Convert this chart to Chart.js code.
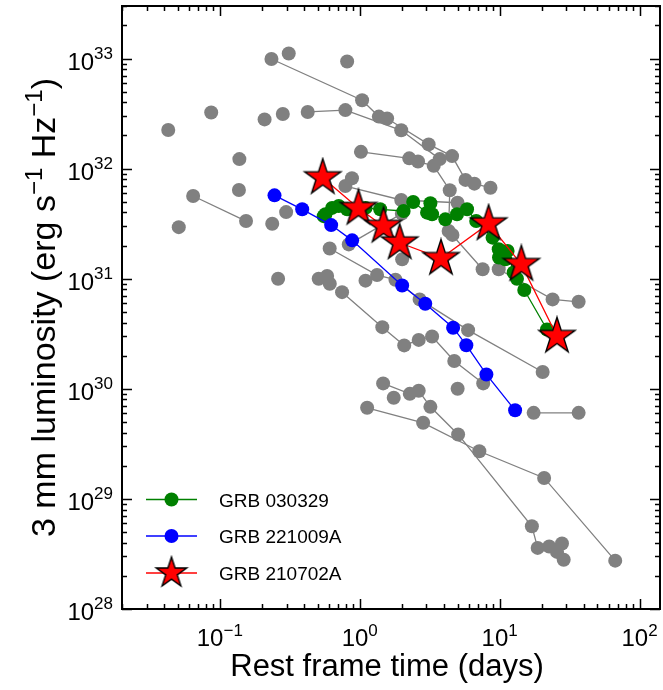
<!DOCTYPE html>
<html><head><meta charset="utf-8">
<script src="https://cdn.jsdelivr.net/npm/chart.js@4/dist/chart.umd.min.js"></script>
<style>html,body{margin:0;padding:0;background:#fff}#wrap{width:663px;height:690px}</style>
</head><body><div id="wrap"><canvas id="c" width="663" height="690"></canvas></div>
<script>
// ---------------- DATA ----------------
const seriesLabels = ['GRB 030329', 'GRB 221009A', 'GRB 210702A'];

const grb030329_t = [0.553,0.569,0.635,0.708,0.813,1.1,1.40,2.06,2.41,3.03,3.2,3.29,4.09,4.96,5.85,6.8,8.9,9.85,9.9,10.99,11.4,12.6,13.3,15.0,21.8];
const grb030329_L = [3.7e31,3.85e31,4.4e31,4.58e31,4.27e31,4.4e31,4.27e31,4.12e31,4.97e31,3.98e31,4.84e31,3.85e31,3.46e31,3.85e31,4.27e31,3.34e31,2.36e31,1.85e31,1.56e31,1.5e31,1.79e31,1.14e31,1.0e31,7.9e30,3.46e30];

const grb221009A_t = [0.246,0.388,0.625,0.883,2.01,2.94,4.65,5.78,8.04,12.9];
const grb221009A_L = [5.72e31,4.27e31,3.07e31,2.23e31,8.69e30,5.93e30,3.59e30,2.49e30,1.35e30,6.38e29];

const grb210702A_t = [0.544,0.98,1.48,1.93,3.81,8.34,14.3,25.7];
const grb210702A_L = [8.28e31,4.36e31,3.0e31,2.12e31,1.53e31,3.16e31,1.35e31,3.0e30];

// archival GRBs (grey), connected light curves
const archivalT = [
  [0.234,1.04,1.37,1.57,3.11,4.57,5.7,6.6,8.6],
  [0.425,0.79,1.98,3.73],
  [1.02,2.26,2.61,3.38,4.4,4.32,7.56],
  [0.0645,0.154],
  [0.79,1.98,5.0],
  [0.835,2.0],
  [9.85,23.9,36.7],
  [0.61,1.33,1.8,2.68,5.95,20.3],
  [0.748,1.45,2.08,2.64,3.29,4.74,7.63],
  [1.47,2.28,2.64,3.2,5.05,17.0,18.7,22.6,27.9,28.7],
  [1.13,2.84,7.16,20.8,67],
  [17.5,36.7]
];
const archivalL = [
  [9.9e32,4.18e32,2.97e32,2.85e32,1.66e32,1.30e32,7.9e31,7.3e31,6.7e31],
  [3.27e32,3.4e32,2.23e32,1.22e32],
  [1.42e32,1.24e32,1.16e32,1.06e32,6.36e31,2.71e31,1.22e31],
  [5.64e31,3.34e31],
  [6.95e31,5.19e31,4.9e31],
  [2.05e31,3.9e31],
  [1.22e31,6.49e30,6.17e30],
  [1.88e31,1.08e31,9.8e30,6.49e30,3.41e30,1.42e30],
  [7.55e30,3.63e30,2.48e30,2.78e30,2.99e30,1.79e30,1.12e30],
  [1.12e30,9.0e29,9.6e29,6.86e29,3.85e29,5.64e28,3.59e28,3.7e28,3.93e28,2.8e28],
  [6.72e29,4.91e29,2.71e29,1.55e29,2.75e28],
  [6.05e29,6.05e29]
];
// archival single detections (grey, unconnected)
const singleT = [0.311,0.813,0.0868,0.0428,0.209,0.282,0.138,0.137,0.0509,0.237,0.298,0.88,0.261,0.509,0.585,0.611,1.1,2.01,4.6,1.75,5.01,25.7];
const singleL = [1.11e33,9.4e32,3.23e32,2.24e32,2.8e32,3.13e32,1.22e32,6.39e31,2.94e31,3.16e31,4.03e31,8.17e31,1.0e31,1.0e31,1.06e31,9.0e30,9.6e30,1.5e31,2.5e31,8.3e29,1.0e30,3.3e28];

const xDecades = [-1, 0, 1, 2];
const yDecades = [28, 29, 30, 31, 32, 33];

// ---------------- helpers ----------------
const FONT = '"Liberation Sans", Arial, Helvetica, sans-serif';
function pts(t, L) { return t.map((v, i) => ({x: v, y: L[i]})); }
function starImg(R) {
  const s = Math.ceil(2 * R + 4), c = document.createElement('canvas');
  c.width = s; c.height = s;
  const g = c.getContext('2d'), cx = s / 2, cy = s / 2, r = R * 0.381966;
  g.beginPath();
  for (let i = 0; i < 10; i++) {
    const a = -Math.PI / 2 + i * Math.PI / 5, rr = i % 2 ? r : R;
    const px = cx + rr * Math.cos(a), py = cy + rr * Math.sin(a);
    i ? g.lineTo(px, py) : g.moveTo(px, py);
  }
  g.closePath();
  g.fillStyle = '#ff0000'; g.fill();
  g.lineWidth = 1.4; g.strokeStyle = '#000'; g.lineJoin = 'miter'; g.stroke();
  return c;
}
const STAR = starImg(19), STAR_LEG = starImg(16);
const GREY = '#808080';

const datasets = [];
datasets.push({label: seriesLabels[2], data: pts(grb210702A_t, grb210702A_L), showLine: true,
  borderColor: '#ff0000', borderWidth: 1.3, pointStyle: STAR, pointRadius: 19, order: 0});
datasets.push({label: seriesLabels[1], data: pts(grb221009A_t, grb221009A_L), showLine: true,
  borderColor: '#0000ff', borderWidth: 1.3, pointBackgroundColor: '#0000ff', pointBorderWidth: 0, pointRadius: 7, order: 1});
datasets.push({label: seriesLabels[0], data: pts(grb030329_t, grb030329_L), showLine: true,
  borderColor: '#008000', borderWidth: 1.3, pointBackgroundColor: '#008000', pointBorderWidth: 0, pointRadius: 7, order: 2});
archivalT.forEach((t, i) => datasets.push({label: 'arch' + i, data: pts(t, archivalL[i]), showLine: true,
  borderColor: GREY, borderWidth: 1.3, pointBackgroundColor: GREY, pointBorderWidth: 0, pointRadius: 7, order: 10}));
datasets.push({label: 'single', data: pts(singleT, singleL), showLine: false,
  pointBackgroundColor: GREY, pointBorderWidth: 0, pointRadius: 7, order: 10});

function drawPow(ctx, base, exp, x, y, align, bs, es, rise) {
  ctx.font = bs + 'px ' + FONT; const wb = ctx.measureText(base).width;
  ctx.font = es + 'px ' + FONT; const we = ctx.measureText(exp).width;
  const tot = wb + we; let sx = align === 'center' ? x - tot / 2 : (align === 'right' ? x - tot : x);
  ctx.textAlign = 'left'; ctx.textBaseline = 'alphabetic';
  ctx.font = bs + 'px ' + FONT; ctx.fillText(base, sx, y);
  ctx.font = es + 'px ' + FONT; ctx.fillText(exp, sx + wb, y - rise);
}
function expStr(d) { return d < 0 ? '\u2212' + (-d) : String(d); }

const axesPlugin = {
  id: 'mplAxes',
  afterDatasetsDraw(chart) {
    const {ctx, chartArea: a, scales: {x, y}} = chart;
    ctx.save();
    ctx.strokeStyle = '#000'; ctx.fillStyle = '#000';
    // ticks
    ctx.lineWidth = 1.5;
    ctx.beginPath();
    for (let d = -2; d <= 2; d++) for (let m = 1; m <= 9; m++) {
      const v = m * Math.pow(10, d);
      if (v < x.min || v > x.max) continue;
      const px = Math.round(x.getPixelForValue(v)) + 0.5, len = m === 1 ? 10 : 5;
      ctx.moveTo(px, a.bottom); ctx.lineTo(px, a.bottom - len);
      ctx.moveTo(px, a.top); ctx.lineTo(px, a.top + len);
    }
    for (let d = 27; d <= 33; d++) for (let m = 1; m <= 9; m++) {
      const v = m * Math.pow(10, d);
      if (v < y.min || v > y.max * 1.0001) continue;
      const py = Math.round(y.getPixelForValue(v)) + 0.5, len = m === 1 ? 10 : 5;
      ctx.moveTo(a.left, py); ctx.lineTo(a.left + len, py);
      ctx.moveTo(a.right, py); ctx.lineTo(a.right - len, py);
    }
    ctx.stroke();
    // frame
    ctx.lineWidth = 2;
    ctx.strokeRect(a.left, a.top, a.right - a.left, a.bottom - a.top);
    // tick labels
    xDecades.forEach(d => {
      const px = x.getPixelForValue(Math.pow(10, d));
      drawPow(ctx, '10', expStr(d), px, a.bottom + 37, 'center', 24, 17, 10);
    });
    yDecades.forEach(d => {
      const py = y.getPixelForValue(Math.pow(10, d));
      drawPow(ctx, '10', expStr(d), a.left - 9, py + 11, 'right', 24, 17, 11);
    });
    // x title
    ctx.font = '31px ' + FONT; ctx.textAlign = 'center'; ctx.textBaseline = 'alphabetic';
    ctx.fillText('Rest frame time (days)', (a.left + a.right) / 2 - 4, 676);
    // y title (rotated, with superscripts)
    const segs = [['3 mm luminosity (erg s', 34, 0], ['\u22121', 24, 13], [' Hz', 34, 0], ['\u22121', 24, 13], [')', 34, 0]];
    let tot = 0; segs.forEach(s => { ctx.font = s[1] + 'px ' + FONT; s.w = ctx.measureText(s[0]).width; tot += s.w; });
    ctx.save(); ctx.translate(55, (a.top + a.bottom) / 2); ctx.rotate(-Math.PI / 2);
    ctx.textAlign = 'left';
    let cx = -tot / 2;
    segs.forEach(s => { ctx.font = s[1] + 'px ' + FONT; ctx.fillText(s[0], cx, -s[2]); cx += s.w; });
    ctx.restore();
    // legend
    const legendRows = [
      {ds: chart.data.datasets[2], y: 499.5},
      {ds: chart.data.datasets[1], y: 536},
      {ds: chart.data.datasets[0], y: 573}
    ];
    legendRows.forEach(r => {
      ctx.strokeStyle = r.ds.borderColor; ctx.lineWidth = 1.3;
      ctx.beginPath(); ctx.moveTo(146, r.y); ctx.lineTo(197, r.y); ctx.stroke();
      if (r.ds.pointStyle === STAR) {
        ctx.drawImage(STAR_LEG, 171.5 - STAR_LEG.width / 2, r.y - STAR_LEG.height / 2);
      } else {
        ctx.fillStyle = r.ds.pointBackgroundColor;
        ctx.beginPath(); ctx.arc(171.5, r.y, 7, 0, Math.PI * 2); ctx.fill();
      }
      ctx.fillStyle = '#000'; ctx.font = '19px ' + FONT; ctx.textAlign = 'left'; ctx.textBaseline = 'alphabetic';
      ctx.fillText(r.ds.label, 219, r.y + 7);
    });
    ctx.restore();
  }
};

new Chart(document.getElementById('c'), {
  type: 'scatter',
  data: {datasets},
  options: {
    responsive: false, devicePixelRatio: 1, animation: false, events: [],
    layout: {autoPadding: false, padding: {top: 6, right: 3, left: 0, bottom: 0}},
    plugins: {legend: {display: false}, tooltip: {enabled: false}},
    scales: {
      x: {type: 'logarithmic', min: 0.02, max: 140, ticks: {display: false}, grid: {display: false}, border: {display: false},
          afterFit(s) { s.height = 81; }},
      y: {type: 'logarithmic', min: 1e28, max: 3e33, ticks: {display: false}, grid: {display: false}, border: {display: false},
          afterFit(s) { s.width = 122; }}
    }
  },
  plugins: [axesPlugin]
});
</script></body></html>
